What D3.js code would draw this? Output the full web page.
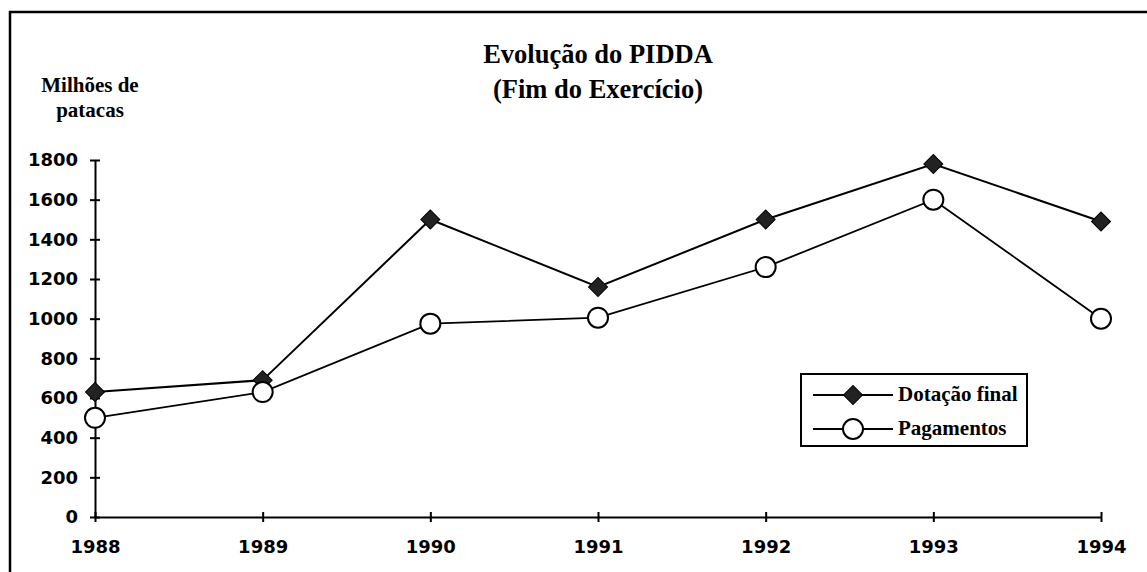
<!DOCTYPE html>
<html>
<head>
<meta charset="utf-8">
<script src="https://cdn.jsdelivr.net/npm/d3@7"></script>
<style>
  body { margin: 0; background: #fff; }
  svg { display: block; }
  .serif { font-family: "Liberation Serif", "DejaVu Serif", serif; font-weight: bold; }
  .tick text { font-family: "DejaVu Sans", sans-serif; font-weight: bold; font-size: 18px; fill: #000; }
</style>
</head>
<body>
<svg id="chart" width="1147" height="572"></svg>
<script>
var years = [1988, 1989, 1990, 1991, 1992, 1993, 1994];
var dotacao = [630, 690, 1500, 1160, 1500, 1780, 1490];
var pagamentos = [500, 630, 975, 1005, 1260, 1600, 1000];
var yTicks = [0, 200, 400, 600, 800, 1000, 1200, 1400, 1600, 1800];
var titleLines = ["Evolução do PIDDA", "(Fim do Exercício)"];
var unitLines = ["Milhões de", "patacas"];
var legendNames = ["Dotação final", "Pagamentos"];

var svg = d3.select("#chart");

// frame (scanned page: top and left edge only)
svg.append("path")
    .attr("d", "M10,572 V12 H1147")
    .attr("fill", "none")
    .attr("stroke", "#000")
    .attr("stroke-width", 2.5);

var x = d3.scalePoint().domain(years).range([95, 1101]);
var y = d3.scaleLinear().domain([0, 1800]).range([517, 160]);

// axes
var yAxis = svg.append("g")
    .attr("transform", "translate(95,0)")
    .call(d3.axisLeft(y).tickValues(yTicks).tickFormat(d3.format("d")).tickSize(0).tickPadding(17));
yAxis.attr("font-family", null).attr("font-size", null);
yAxis.select(".domain").attr("stroke-width", 2);
yAxis.selectAll(".tick line").remove();
yAxis.selectAll(".tick").append("line")
    .attr("x1", -5).attr("x2", 5)
    .attr("stroke", "#000").attr("stroke-width", 2);

var xAxis = svg.append("g")
    .attr("transform", "translate(0,517)")
    .call(d3.axisBottom(x).tickFormat(d3.format("d")).tickSize(0).tickPadding(23));
xAxis.attr("font-family", null).attr("font-size", null);
xAxis.select(".domain").attr("stroke-width", 2);
xAxis.selectAll(".tick line").remove();
xAxis.selectAll(".tick").append("line")
    .attr("y1", -5).attr("y2", 5)
    .attr("stroke", "#000").attr("stroke-width", 2);

// titles
svg.append("text")
    .attr("class", "serif")
    .attr("text-anchor", "middle")
    .style("font-size", "26.5px")
    .selectAll("tspan")
    .data(titleLines)
    .enter()
    .append("tspan")
    .attr("x", 598)
    .attr("y", function(d, i) { return 63 + i * 35; })
    .text(function(d) { return d; });

svg.append("text")
    .attr("class", "serif")
    .attr("text-anchor", "middle")
    .style("font-size", "21px")
    .selectAll("tspan")
    .data(unitLines)
    .enter()
    .append("tspan")
    .attr("x", 90)
    .attr("y", function(d, i) { return 92 + i * 25; })
    .text(function(d) { return d; });

// series
var line = d3.line()
    .x(function(d, i) { return x(years[i]); })
    .y(function(d) { return y(d); });

svg.append("path")
    .datum(pagamentos)
    .attr("d", line)
    .attr("fill", "none")
    .attr("stroke", "#000")
    .attr("stroke-width", 1.8);

svg.append("path")
    .datum(dotacao)
    .attr("d", line)
    .attr("fill", "none")
    .attr("stroke", "#000")
    .attr("stroke-width", 2);

var diamond = d3.symbol().type(d3.symbolSquare).size(180);

svg.append("g")
    .selectAll("path")
    .data(dotacao)
    .enter()
    .append("path")
    .attr("d", diamond)
    .attr("transform", function(d, i) { return "translate(" + x(years[i]) + "," + y(d) + ") rotate(45)"; })
    .attr("fill", "#222")
    .attr("stroke", "#000")
    .attr("stroke-width", 1);

svg.append("g")
    .selectAll("circle")
    .data(pagamentos)
    .enter()
    .append("circle")
    .attr("cx", function(d, i) { return x(years[i]); })
    .attr("cy", function(d) { return y(d); })
    .attr("r", 10)
    .attr("fill", "#fff")
    .attr("stroke", "#000")
    .attr("stroke-width", 2);

// legend
var legend = svg.append("g").attr("transform", "translate(801,374)");
legend.append("rect")
    .attr("width", 226).attr("height", 72)
    .attr("fill", "#fff")
    .attr("stroke", "#000")
    .attr("stroke-width", 2);

var rows = legend.selectAll("g.row")
    .data(legendNames)
    .enter()
    .append("g")
    .attr("class", "row")
    .attr("transform", function(d, i) { return "translate(0," + (21 + i * 34) + ")"; });

rows.append("line")
    .attr("x1", 12).attr("x2", 92)
    .attr("stroke", "#000")
    .attr("stroke-width", function(d, i) { return i == 0 ? 2 : 1.8; });

rows.filter(function(d, i) { return i == 0; })
    .append("path")
    .attr("d", diamond)
    .attr("transform", "translate(52,0) rotate(45)")
    .attr("fill", "#222")
    .attr("stroke", "#000");

rows.filter(function(d, i) { return i == 1; })
    .append("circle")
    .attr("cx", 52).attr("r", 10)
    .attr("fill", "#fff")
    .attr("stroke", "#000")
    .attr("stroke-width", 2);

rows.append("text")
    .attr("class", "serif")
    .attr("x", 97)
    .attr("y", 6)
    .style("font-size", "21px")
    .text(function(d) { return d; });
</script>
</body>
</html>
